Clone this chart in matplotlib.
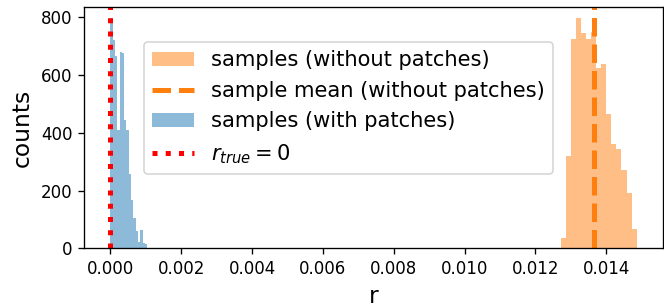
import matplotlib
matplotlib.use('Agg')
import matplotlib.pyplot as plt
import numpy as np

# histogram of r without patches (counts per bin)
r_lo_nopatch, r_hi_nopatch = 0.012715, 0.014860
counts_nopatch = [37, 319, 725, 797, 746, 725, 749, 625, 637, 464, 363, 345, 271, 193, 68]
mean_nopatch = 0.01366

# histogram of r with patches
r_lo_patch, r_hi_patch = 0.0, 0.00104
counts_patch = [797, 720, 665, 411, 680, 675, 445, 410, 257, 168, 105, 60, 22, 64, 18, 14]

r_true = 0.0

edges_nopatch = np.linspace(r_lo_nopatch, r_hi_nopatch, len(counts_nopatch) + 1)
edges_patch = np.linspace(r_lo_patch, r_hi_patch, len(counts_patch) + 1)

fig, ax = plt.subplots(figsize=(664 / 120, 308 / 120), dpi=120)
fig.subplots_adjust(left=0.1265, right=0.9985, bottom=0.194, top=0.978)

ax.hist(edges_nopatch[:-1], bins=edges_nopatch, weights=counts_nopatch,
        color='C1', alpha=0.5, label='samples (without patches)')
ax.axvline(mean_nopatch, color='C1', ls='--', lw=3, label='sample mean (without patches)')
ax.hist(edges_patch[:-1], bins=edges_patch, weights=counts_patch,
        color='C0', alpha=0.5, label='samples (with patches)')
ax.axvline(r_true, color='r', ls=':', lw=3, label=r'$r_{true} = 0$')

ax.set_xticks(np.arange(0, 0.0141, 0.002))
ax.set_xlabel('r', fontsize=14)
ax.set_ylabel('counts', fontsize=14)
ax.legend(fontsize=12.6, loc='upper left', bbox_to_anchor=(0.1036, 0.854), borderaxespad=0)

plt.savefig('out.png', dpi=120)
